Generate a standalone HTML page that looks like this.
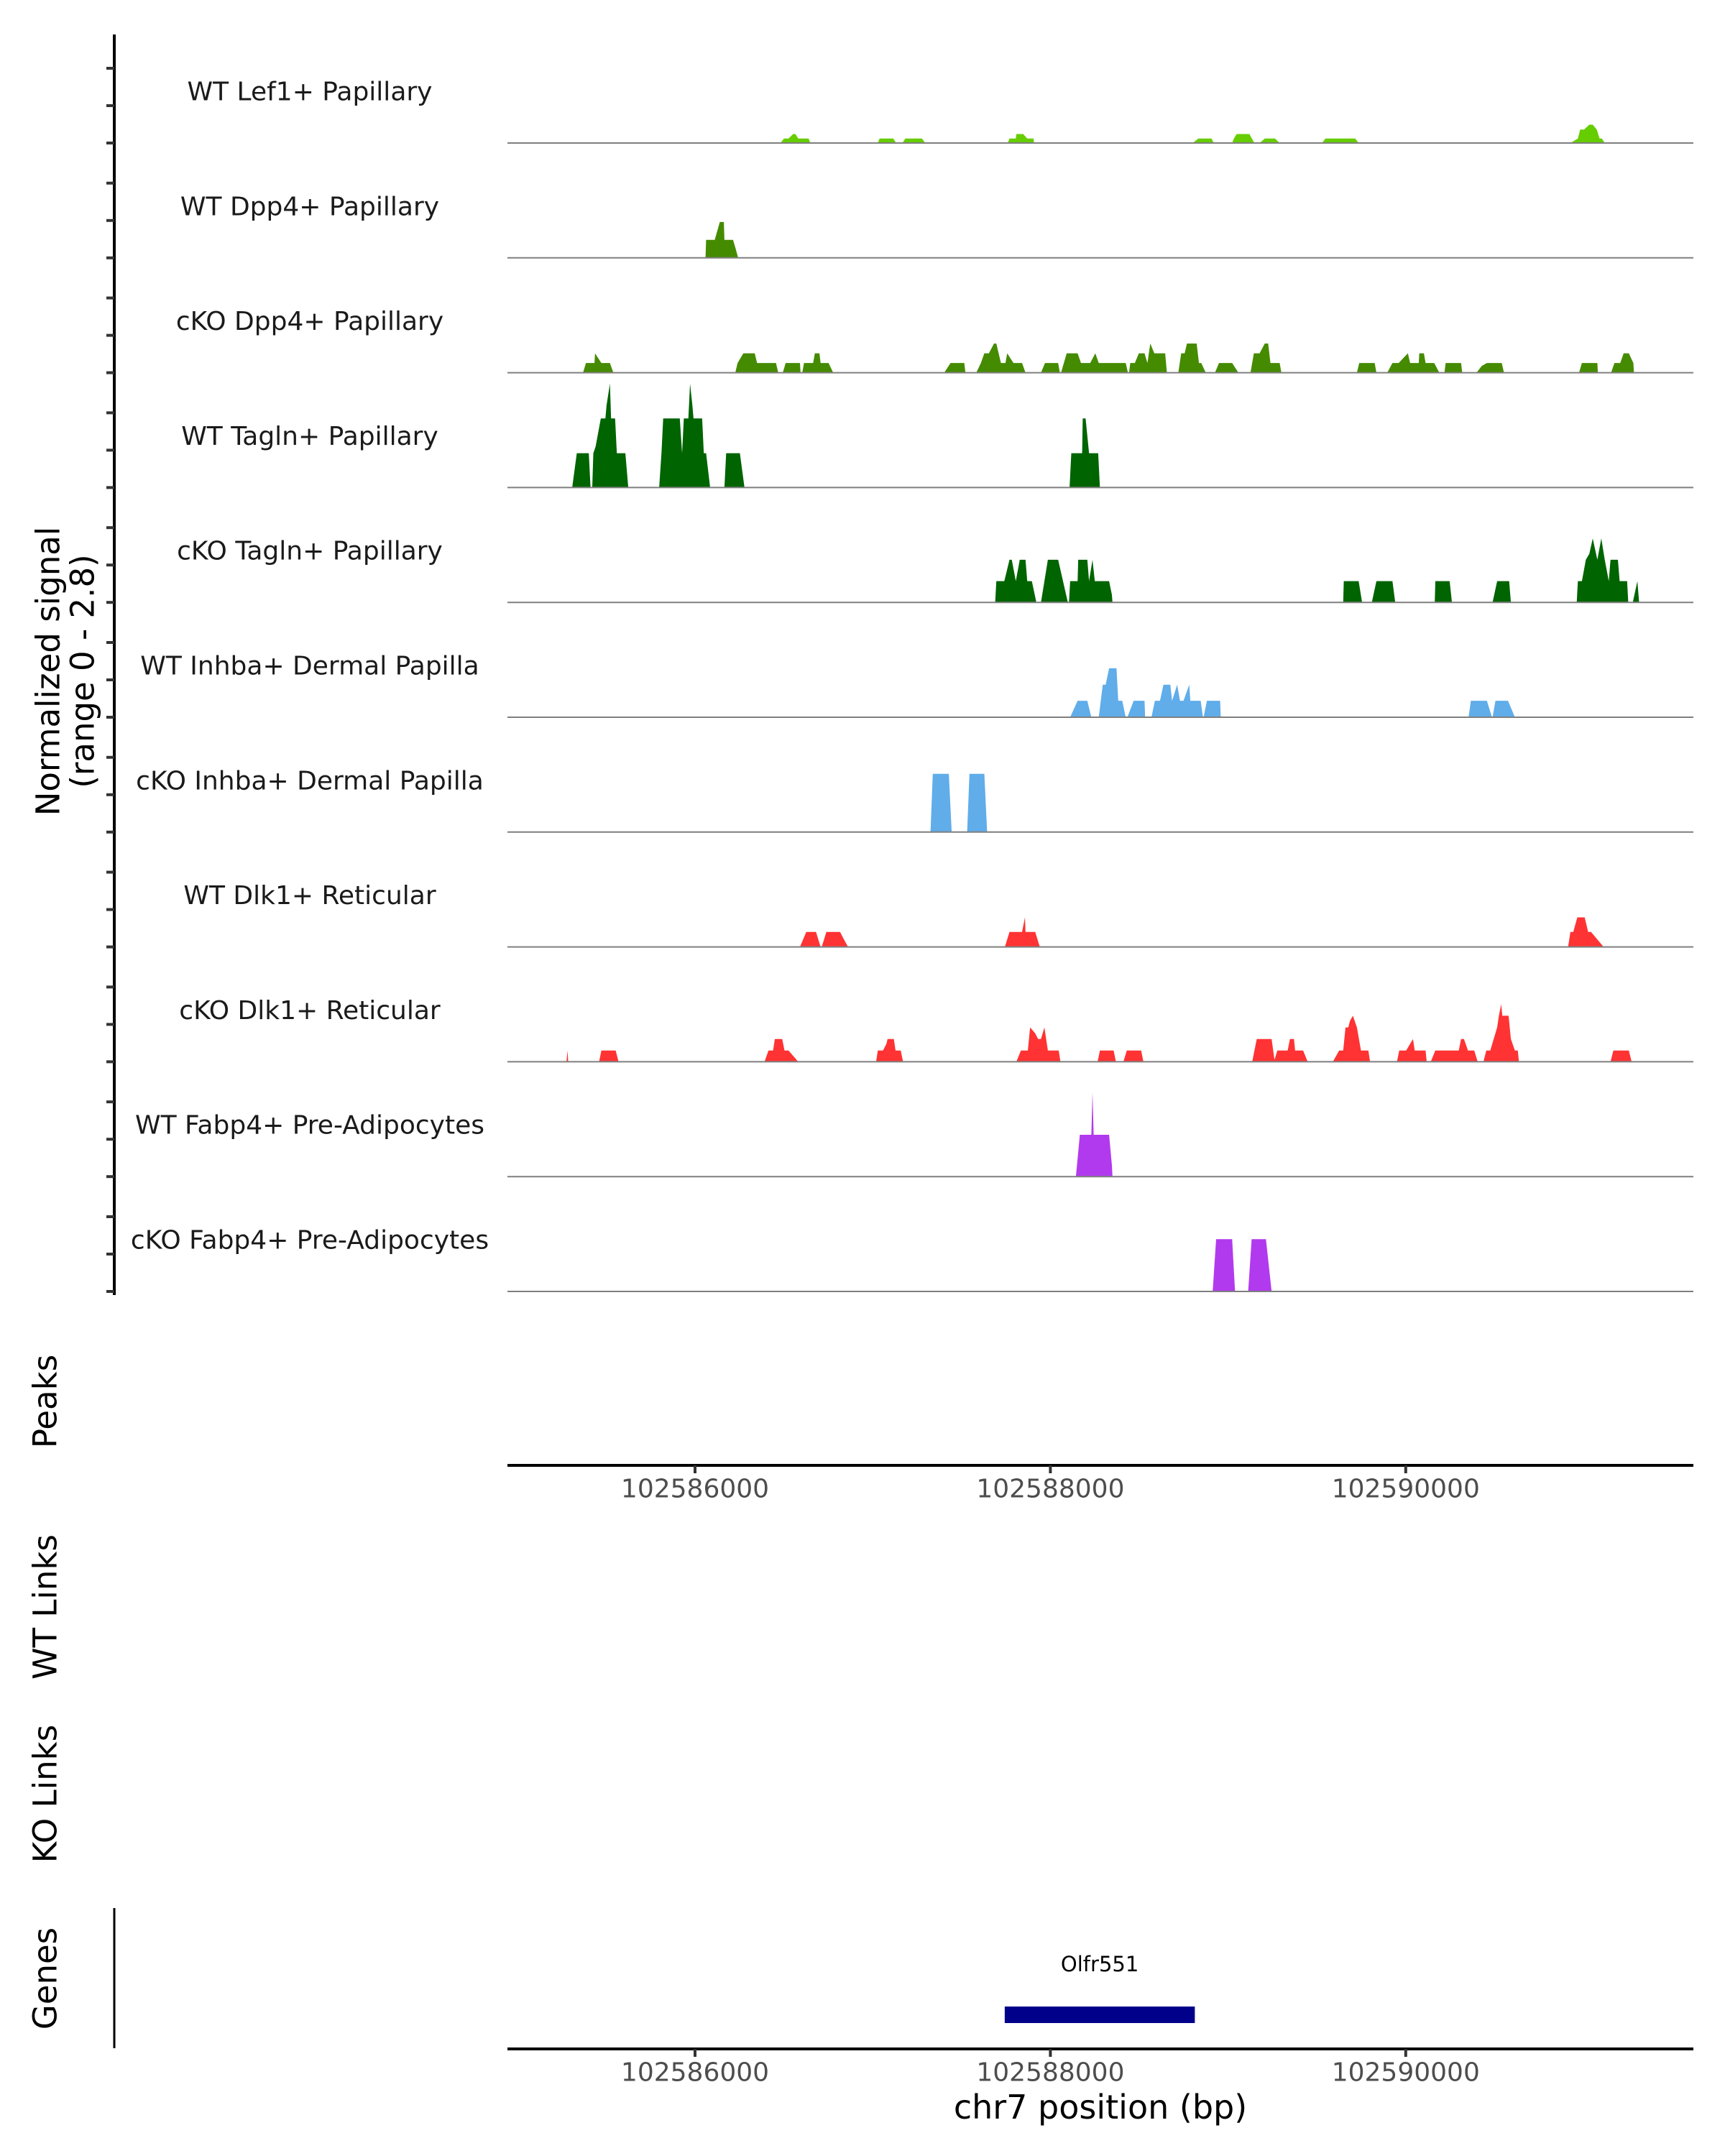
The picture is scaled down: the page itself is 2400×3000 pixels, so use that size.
<!DOCTYPE html>
<html><head><meta charset="utf-8"><style>
html,body{margin:0;padding:0;background:#fff}
svg{display:block}
text{font-family:"DejaVu Sans","Liberation Sans",sans-serif}
</style></head><body>
<svg id="chart" xmlns="http://www.w3.org/2000/svg" width="2400" height="3000" viewBox="0 0 2400 3000">
<rect width="2400" height="3000" fill="#fff"/>
</svg>
<script>
// positions are offsets from regionStart, in steps of binBp base pairs
const regionStart = 102584922;
const binBp = 3.2215;
const trackNames = ["WT Lef1+ Papillary","WT Dpp4+ Papillary","cKO Dpp4+ Papillary","WT Tagln+ Papillary","cKO Tagln+ Papillary","WT Inhba+ Dermal Papilla","cKO Inhba+ Dermal Papilla","WT Dlk1+ Reticular","cKO Dlk1+ Reticular","WT Fabp4+ Pre-Adipocytes","cKO Fabp4+ Pre-Adipocytes"];
const trackColors = ["#66CD00","#458B00","#458B00","#006400","#006400","#60ADEA","#60ADEA","#FF3333","#FF3333","#B23AEE","#B23AEE"];
const xTicks = [102586000,102588000,102590000];
const xTickLabels = ["102586000","102588000","102590000"];
const yTicks = [0,1,2];
const geneName = "Olfr551";
const geneStart = 102587743;
const geneEnd = 102588813;

const lef1Pos=[484,490,498,506,510,515,533,536,654,657,681,686,697,702,731,737,881,884,895,896,908,915,926,927,1204,1214,1237,1241,1273,1276,1281,1303,1312,1321,1330,1348,1356,1430,1436,1488,1494,1864,1877,1881,1888,1897,1903,1910,1915,1919,1924];
const lef1Val=[0,.12,.12,.24,.24,.12,.12,0,0,.12,.12,0,0,.12,.12,0,0,.12,.12,.24,.24,.12,.12,0,0,.12,.12,0,0,.12,.24,.24,0,0,.12,.12,0,0,.12,.12,0,0,.12,.36,.36,.49,.49,.36,.12,.12,0];
const wtDpp4Pos=[353,354,369,378,385,386,401,405,410];
const wtDpp4Val=[0,.48,.48,.96,.96,.48,.48,.28,0];
const koDpp4Pos=[139,144,159,160,171,186,192,405,409,419,439,443,476,480,488,493,518,519,522,525,541,544,552,554,568,576,770,781,805,807,826,834,840,848,857,861,869,877,880,891,906,912,939,946,969,972,974,984,1003,1009,1025,1034,1040,1087,1091,1093,1095,1103,1110,1120,1125,1130,1137,1156,1159,1179,1184,1190,1194,1211,1215,1219,1227,1243,1250,1273,1284,1305,1311,1321,1330,1336,1340,1356,1359,1491,1495,1522,1525,1544,1553,1564,1572,1580,1584,1599,1600,1608,1611,1626,1635,1644,1646,1673,1675,1700,1709,1718,1744,1748,1879,1884,1911,1912,1935,1941,1951,1957,1966,1974,1975];
const koDpp4Val=[0,.26,.26,.52,.26,.26,0,0,.26,.52,.52,.26,.26,0,0,.26,.26,0,0,.26,.26,.52,.52,.26,.26,0,0,.26,.26,0,0,.26,.52,.52,.78,.78,.26,.26,.52,.26,.26,0,0,.26,.26,0,0,.52,.52,.26,.26,.52,.26,.26,0,0,.26,.26,.52,.52,.26,.78,.52,.52,0,0,.52,.52,.78,.78,.26,.26,0,0,.26,.26,0,0,.52,.52,.78,.78,.26,.26,0,0,.26,.26,0,0,.26,.26,.39,.52,.26,.26,.52,.52,.26,.26,0,0,.26,.26,0,0,.18,.26,.26,0,0,.26,.26,0,0,.26,.26,.52,.52,.26,0];
const wtTaglnPos=[120,128,149,152,155,157,161,170,178,180,186,188,195,198,213,218,272,276,279,308,312,315,323,326,330,332,347,350,354,361,386,389,413,421,989,992,1011,1012,1017,1023,1039,1042];
const wtTaglnVal=[0,.92,.92,0,0,.92,1.1,1.85,1.85,2.2,2.78,1.85,1.85,.92,.92,0,0,.92,1.85,1.85,.92,1.85,1.85,2.78,2.2,1.85,1.85,.92,.92,0,0,.92,.92,0,0,.92,.92,1.85,1.85,.92,.92,0];
const koTaglnPos=[859,861,875,884,888,895,902,912,915,923,931,939,945,951,969,986,988,990,1003,1004,1020,1023,1029,1033,1058,1063,1064,1467,1468,1494,1500,1517,1525,1553,1558,1627,1628,1653,1657,1728,1736,1757,1760,1875,1877,1884,1891,1897,1903,1911,1918,1924,1931,1934,1947,1950,1963,1965,1973,1981,1984];
const koTaglnVal=[0,.57,.57,1.14,1.14,.57,1.14,1.14,.57,.57,0,0,.57,1.14,1.14,0,0,.57,.57,1.14,1.14,.57,1.14,.57,.57,.2,0,0,.57,.57,0,0,.57,.57,0,0,.57,.57,0,0,.57,.57,0,0,.57,.57,1.14,1.3,1.71,1.14,1.71,1.14,.57,1.14,1.14,.57,.57,0,0,.57,0];
const wtInhbaPos=[990,1003,1020,1027,1040,1047,1052,1058,1071,1074,1081,1087,1090,1101,1120,1121,1132,1138,1147,1153,1165,1168,1177,1182,1188,1198,1200,1218,1222,1223,1229,1252,1253,1686,1690,1718,1727,1728,1733,1755,1767];
const wtInhbaVal=[0,.44,.44,0,0,.87,.87,1.31,1.31,.44,.44,0,0,.44,.44,0,0,.44,.44,.87,.87,.44,.87,.44,.44,.87,.44,.44,0,0,.44,.44,0,0,.44,.44,0,0,.44,.44,0];
const koInhbaPos=[746,750,778,783,810,814,840,845];
const koInhbaVal=[0,1.56,1.56,0,0,1.56,1.56,0];
const wtDlk1Pos=[518,529,546,554,556,564,588,593,602,876,884,906,911,912,929,937,1860,1864,1869,1876,1889,1895,1900,1922];
const wtDlk1Val=[0,.4,.4,0,0,.4,.4,.25,0,0,.4,.4,.79,.4,.4,0,0,.4,.4,.79,.79,.4,.4,0];
const koDlk1Pos=[110,112,113,167,171,196,201,456,463,471,474,487,491,498,515,651,654,663,669,671,682,685,694,698,896,904,916,920,929,934,939,945,951,970,973,1038,1042,1066,1070,1083,1089,1114,1118,1308,1316,1342,1347,1352,1370,1374,1381,1383,1397,1405,1449,1460,1467,1471,1476,1479,1484,1491,1498,1511,1514,1561,1565,1577,1589,1592,1611,1613,1620,1628,1669,1673,1678,1685,1696,1702,1712,1717,1724,1736,1739,1743,1745,1756,1760,1767,1772,1774,1934,1939,1966,1971];
const koDlk1Val=[0,.3,0,0,.3,.3,0,0,.3,.3,.61,.61,.3,.3,0,0,.3,.3,.48,.61,.61,.3,.3,0,0,.3,.3,.92,.76,.61,.61,.92,.3,.3,0,0,.3,.3,0,0,.3,.3,0,0,.61,.61,.05,.3,.3,.61,.61,.3,.3,0,0,.3,.3,.92,.92,1.1,1.23,.92,.3,.3,0,0,.3,.3,.61,.3,.3,0,0,.3,.3,.61,.61,.3,.3,0,0,.3,.3,.92,1.23,1.54,1.23,1.23,.61,.3,.3,0,0,.3,.3,0];
const wtFabp4Pos=[1000,1007,1027,1029,1031,1058,1063,1064];
const wtFabp4Val=[0,1.12,1.12,2.25,1.12,1.12,.3,0];
const koFabp4Pos=[1239,1245,1273,1278,1301,1307,1332,1342];
const koFabp4Val=[0,1.4,1.4,0,0,1.4,1.4,0];

const trackPos=[lef1Pos,wtDpp4Pos,koDpp4Pos,wtTaglnPos,koTaglnPos,wtInhbaPos,koInhbaPos,wtDlk1Pos,koDlk1Pos,wtFabp4Pos,koFabp4Pos];
const trackVal=[lef1Val,wtDpp4Val,koDpp4Val,wtTaglnVal,koTaglnVal,wtInhbaVal,koInhbaVal,wtDlk1Val,koDlk1Val,wtFabp4Val,koFabp4Val];

const NS="http://www.w3.org/2000/svg";
const svg=document.getElementById('chart');
const X0=706, X1=2356;
function xScale(bp){return 967+(bp-102586000)*0.2472;}
function posToBp(p){return regionStart+p*binBp;}
function baseline(i){return 199+159.8*i;}
function yScale(i,v){return baseline(i)-v*52;}
function mk(tag,attrs,parent){const e=document.createElementNS(NS,tag);for(const k in attrs)e.setAttribute(k,attrs[k]);(parent||svg).appendChild(e);return e;}

const yAxis=mk('line',{x1:159,y1:48,x2:159,y2:1802,stroke:'#000','stroke-width':4});


for(let i=0;i<trackNames.length;i++){
  for(const t of yTicks){
    const tk=mk('line',{x1:148,x2:159,y1:yScale(i,t),y2:yScale(i,t),stroke:'#333','stroke-width':4});
    
    
  }
}
for(let i=0;i<trackNames.length;i++){
  const g=mk('g',{});
  
  
  const lbl=mk('text',{x:431,y:baseline(i)-71,'text-anchor':'middle','dominant-baseline':'central','font-size':36,fill:'#1a1a1a'},g);
  lbl.textContent=trackNames[i];
  
  
  const P=trackPos[i],V=trackVal[i];
  let d='M'+xScale(posToBp(P[0])).toFixed(1)+','+baseline(i).toFixed(1);
  for(let j=0;j<P.length;j++){d+=' L'+xScale(posToBp(P[j])).toFixed(1)+','+yScale(i,V[j]).toFixed(1);}
  d+=' L'+xScale(posToBp(P[P.length-1])).toFixed(1)+','+baseline(i).toFixed(1)+' Z';
  const area=mk('path',{d:d,fill:trackColors[i]},g);
  
  
  const bl=mk('line',{x1:X0,x2:X1,y1:baseline(i),y2:baseline(i),stroke:'#7f7f7f','stroke-width':2},g);
  
  
}
function rtitle(txt,x,y,name,size){
  const t=mk('text',{x:x,y:y,transform:'rotate(-90 '+x+' '+y+')','text-anchor':'middle','dominant-baseline':'central','font-size':size||45,fill:'#000'});
  t.textContent=txt;
  
  
}
rtitle('Normalized signal',67,934,'y-axis-title');
rtitle('(range 0 - 2.8)',115,934,'y-axis-subtitle');
rtitle('Peaks',63,1950,'peaks-title');
rtitle('WT Links',63,2236,'wt-links-title');
rtitle('KO Links',63,2496,'ko-links-title');
rtitle('Genes',63,2753,'genes-title');

function xAxis(y,name){
  const l=mk('line',{x1:X0,x2:X1,y1:y,y2:y,stroke:'#000','stroke-width':4});
  
  
  for(let k=0;k<xTicks.length;k++){
    const x=xScale(xTicks[k]);
    const tk=mk('line',{x1:x,x2:x,y1:y,y2:y+11,stroke:'#333','stroke-width':4});
    
    
    const tl=mk('text',{x:x,y:y+33,'text-anchor':'middle','dominant-baseline':'central','font-size':36,fill:'#4d4d4d'});
    tl.textContent=xTickLabels[k];
    
    
  }
}
xAxis(2039,'peaks-x-axis');
xAxis(2851,'genes-x-axis');
const xt=mk('text',{x:1531,y:2932,'text-anchor':'middle','dominant-baseline':'central','font-size':46,fill:'#000'});
xt.textContent='chr7 position (bp)';



const gl=mk('line',{x1:159,x2:159,y1:2655,y2:2850,stroke:'#000','stroke-width':3});


const gx0=xScale(geneStart),gx1=xScale(geneEnd);
const gr=mk('rect',{x:gx0,y:2792,width:gx1-gx0,height:23,fill:'#00008B'});


const gt=mk('text',{x:(gx0+gx1)/2,y:2733,'text-anchor':'middle','dominant-baseline':'central','font-size':29,fill:'#000'});
gt.textContent=geneName;


</script>
</body></html>
